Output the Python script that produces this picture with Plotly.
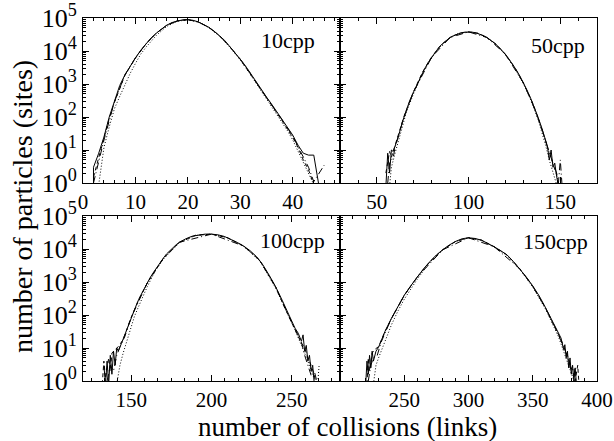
import plotly.graph_objects as go

# ---------------- data ----------------
# Panel 1: 10cpp
p1_x_solid = [2, 2, 3, 4, 5, 6, 7, 8, 9, 10, 11, 12, 13, 14, 15, 16, 17, 18, 19, 20, 21, 22, 23, 24, 25, 26, 27, 28, 29, 30,
              31, 32, 33, 34, 35, 36, 37, 38, 39, 40, 41, 42, 43, 44, 45]
p1_y_solid = [0.5, 3, 8, 25, 100, 300, 900, 1900, 3500, 6200, 10500, 16500, 25000, 35000, 47000, 61000, 73000, 82000, 88000,
              89000, 85000, 76000, 64000, 52000, 40000, 29500, 21000, 13500, 9000, 5600, 3500, 2000, 1150, 660, 400, 240,
              140, 83, 50, 28, 14, 8, 7, 7, 0.8]
p1_x_dash = [2, 3, 4, 5, 6, 8, 10, 12, 14, 16, 18, 20, 22, 24, 26, 28, 30, 32, 34, 36, 38, 39, 40, 41, 42, 43, 44]
p1_y_dash = [1.5, 6, 22, 90, 280, 1850, 6100, 16400, 35000, 61000, 82000, 89000, 76000, 52000, 29500, 13500, 5500, 1950,
             640, 225, 75, 44, 24, 12, 5, 2.5, 0.9]
p1_x_dot = [3, 4, 5, 6, 7, 8, 9, 10, 11, 12, 13, 14, 16, 18, 20, 22, 24, 26, 28, 30, 32, 34, 36, 37, 38, 39, 40, 41, 42, 43, 44]
p1_y_dot = [0.9, 12, 50, 180, 420, 950, 2100, 4200, 8000, 13000, 20500, 30000, 56000, 80000, 88000, 75000, 51000, 28500,
            13000, 5300, 1850, 600, 210, 120, 68, 38, 20, 9, 4.5, 1.8, 0.9]
p1_x_dd = [2, 3, 4, 6, 8, 10, 12, 14, 16, 18, 20, 22, 24, 26, 28, 30, 32, 34, 36, 38, 40, 41, 42, 43, 44, 46]
p1_y_dd = [1, 5, 20, 290, 1900, 6200, 16500, 35000, 61000, 82000, 89000, 76000, 52000, 29500, 13500, 5600, 2000, 650,
           235, 80, 26, 13, 6.5, 3, 1.1, 3.5]

# Panel 2: 50cpp
p2_x_solid = [55, 56, 57, 58, 59, 60, 62, 64, 66, 68, 70, 72, 74, 76, 78, 80, 82, 84, 86, 88, 90, 92, 94, 96, 98, 100, 102,
              104, 106, 108, 110, 112, 114, 116, 118, 120, 122, 124, 126, 128, 130, 132, 134, 136, 138, 140, 142, 143,
              144, 145, 146, 147, 148, 149]
p2_y_solid = [0.8, 8, 2, 10, 9, 13, 28, 71, 158, 316, 562, 1000, 1780, 2820, 4470, 6610, 9550, 13200, 17000, 21400, 25700,
              29500, 33100, 35500, 37200, 38000, 37200, 35500, 33100, 29500, 25700, 21900, 17800, 14100, 11000, 8130,
              5750, 3980, 2690, 1740, 1070, 630, 355, 190, 95, 45, 20, 13, 5, 10, 3, 4, 1.6, 0.8]
p2_x_dash = [55, 56, 57, 58, 60, 62, 65, 70, 75, 80, 85, 90, 95, 100, 105, 110, 115, 120, 125, 130, 135, 138, 140, 142,
             144, 146, 148, 149]
p2_y_dash = [2, 5, 9, 6, 14, 30, 110, 580, 2300, 6700, 15000, 25700, 34500, 38000, 34500, 25700, 15900, 8000, 3300, 1050,
             260, 90, 42, 18, 8, 4, 1.8, 0.8]
p2_x_dot = [57, 58, 60, 62, 64, 66, 70, 75, 80, 85, 90, 95, 100, 105, 110, 115, 120, 125, 130, 134, 138, 140, 142, 144,
            146, 148]
p2_y_dot = [0.8, 3, 8, 20, 55, 130, 500, 2100, 6300, 14500, 25500, 34500, 38000, 34500, 25500, 15700, 7800, 3200, 1000,
            320, 80, 35, 14, 5, 2, 0.9]
p2_x_dd = [56, 57, 59, 60, 65, 70, 80, 90, 100, 110, 120, 130, 136, 140, 143, 145, 147, 148, 149, 150, 151]
p2_y_dd = [1, 4, 6, 12, 105, 560, 6600, 25700, 38000, 25700, 8100, 1060, 180, 44, 12, 6, 3, 2, 1, 5, 0.8]

# Panel 3: 100cpp
p3_x_solid = [133, 134, 135, 136, 137, 138, 139, 140, 141, 142, 144, 146, 148, 150, 152, 154, 156, 158, 160, 162, 164, 166,
              168, 170, 172, 174, 176, 178, 180, 184, 188, 192, 196, 200, 204, 208, 212, 216, 220, 224, 228, 232, 236,
              240, 244, 248, 252, 254, 256, 257, 258, 259, 260, 261, 262, 263, 264]
p3_y_solid = [3, 0.8, 4, 0.8, 6, 1.6, 8, 3, 10, 8, 14, 25, 50, 89, 158, 251, 398, 631, 955, 1410, 2000, 2820, 3980, 5250,
              7080, 8900, 11000, 13500, 16000, 20400, 24500, 26900, 28200, 28200, 26900, 24000, 20000, 15800, 12300,
              8900, 5900, 3300, 1580, 710, 280, 100, 40, 28, 16, 25, 8, 12, 4, 6, 2, 3, 0.8]
p3_x_dash = [132, 133, 134, 136, 137, 138, 140, 142, 145, 150, 155, 160, 170, 180, 190, 200, 210, 220, 230, 240, 245, 250,
             254, 256, 258, 260, 262, 264, 265]
p3_y_dash = [0.8, 4, 1.2, 5, 2, 7, 9, 11, 18, 85, 310, 930, 5200, 16000, 26000, 28200, 22000, 12300, 4600, 690, 190, 58,
             24, 14, 10, 5, 3, 1.5, 0.8]
p3_x_dot = [141, 143, 145, 148, 150, 152, 155, 160, 165, 170, 180, 190, 200, 210, 220, 230, 240, 244, 248, 252, 256, 260,
            263, 265, 266, 267]
p3_y_dot = [0.8, 3, 7, 22, 45, 90, 200, 720, 2200, 4900, 15500, 25800, 28200, 22000, 12000, 4400, 650, 250, 90, 35, 12, 4,
            1.5, 1, 0.7, 3]
p3_x_dd = [135, 137, 139, 141, 143, 146, 150, 160, 170, 180, 200, 220, 230, 240, 248, 252, 256, 258, 260, 262, 264, 266]
p3_y_dd = [1, 3, 2, 6, 11, 22, 85, 940, 5200, 16000, 28200, 12300, 4500, 700, 95, 38, 15, 6, 3, 1.5, 2, 0.8]

# Panel 4: 150cpp
p4_x_solid = [220, 221, 222, 223, 224, 225, 226, 228, 230, 232, 235, 240, 245, 250, 255, 260, 265, 270, 275, 280, 285, 290,
              295, 300, 305, 310, 315, 320, 325, 330, 335, 340, 345, 350, 355, 360, 365, 370, 372, 374, 375, 376, 377,
              378, 379, 380, 381, 382, 383, 384]
p4_y_solid = [0.8, 4, 1.6, 6, 2.5, 8, 4, 8, 10.5, 16, 32, 79, 186, 398, 759, 1410, 2510, 4170, 6610, 9550, 13200, 17000,
              20400, 21900, 20900, 18600, 15100, 11700, 8910, 6610, 4170, 2510, 1410, 759, 380, 166, 66, 26, 20, 9, 12.6,
              5, 8, 2.5, 5, 1.6, 3, 1, 2.5, 0.8]
p4_x_dash = [221, 222, 223, 225, 227, 230, 235, 240, 250, 260, 270, 280, 290, 300, 310, 320, 330, 340, 350, 360, 365, 370,
             372, 375, 377, 379, 381, 383, 385, 386]
p4_y_dash = [0.8, 5, 2, 7, 9, 11, 31, 77, 390, 1400, 4150, 9500, 17000, 21900, 18600, 11700, 6600, 2500, 740, 160, 62, 24,
             18, 9, 6, 3, 2, 1, 3, 0.8]
p4_x_dot = [226, 228, 230, 233, 236, 240, 245, 250, 260, 270, 280, 290, 300, 310, 320, 330, 340, 350, 360, 365, 370, 374,
            378, 381, 383]
p4_y_dot = [0.8, 3, 5, 10, 20, 50, 130, 300, 1200, 4000, 9400, 16900, 21900, 18500, 11500, 6400, 2400, 700, 150, 60, 22, 8,
            3, 1.5, 0.8]
p4_x_dd = [222, 224, 226, 229, 232, 240, 250, 260, 280, 300, 320, 340, 350, 360, 368, 373, 376, 378, 380, 382, 384]
p4_y_dd = [1, 3, 5, 6, 15, 78, 395, 1400, 9500, 21900, 11700, 2500, 750, 162, 38, 14, 7, 4, 2, 2.5, 0.8]

panel_labels = ["10cpp", "50cpp", "100cpp", "150cpp"]
y_tickvals = [1, 10, 100, 1000, 10000, 100000]
y_ticktext = ["10<sup>0</sup>", "10<sup>1</sup>", "10<sup>2</sup>", "10<sup>3</sup>", "10<sup>4</sup>", "10<sup>5</sup>"]
x_title = "number of collisions (links)"
y_title = "number of particles (sites)"

# ---------------- figure ----------------
FONT = "Liberation Serif, Times New Roman, serif"
fig = go.Figure()

series = [
    (1, [(p1_x_solid, p1_y_solid, "solid"), (p1_x_dash, p1_y_dash, "dash"),
         (p1_x_dot, p1_y_dot, "dot"), (p1_x_dd, p1_y_dd, "dashdot")]),
    (2, [(p2_x_solid, p2_y_solid, "solid"), (p2_x_dash, p2_y_dash, "dash"),
         (p2_x_dot, p2_y_dot, "dot"), (p2_x_dd, p2_y_dd, "dashdot")]),
    (3, [(p3_x_solid, p3_y_solid, "solid"), (p3_x_dash, p3_y_dash, "dash"),
         (p3_x_dot, p3_y_dot, "dot"), (p3_x_dd, p3_y_dd, "dashdot")]),
    (4, [(p4_x_solid, p4_y_solid, "solid"), (p4_x_dash, p4_y_dash, "dash"),
         (p4_x_dot, p4_y_dot, "dot"), (p4_x_dd, p4_y_dd, "dashdot")]),
]
dash_map = {"solid": "solid", "dash": "4px,3px", "dot": "1px,2px", "dashdot": "7px,3px,1px,3px"}
for idx, lst in series:
    for xs, ys, st in lst:
        fig.add_trace(go.Scatter(
            x=xs, y=ys, mode="lines",
            line=dict(color="black", width=1, dash=dash_map[st]),
            xaxis="x" if idx == 1 else f"x{idx}",
            yaxis="y" if idx == 1 else f"y{idx}",
            showlegend=False, hoverinfo="skip"))

W, H = 614, 441
ML, MR, MT, MB = 83, 17, 18, 60
PW, PH = W - ML - MR, H - MT - MB  # 514 x 363

top_dom = [198 / PH, 1.0]
bot_dom = [0.0, 165 / PH]
left_dom = [0.0, 0.5]
right_dom = [0.5, 1.0]


def xax(dom, anchor, rng, dtick, minor_dtick, minor_tick0=0, tickvals=None):
    d = dict(domain=dom, anchor=anchor, range=rng, showline=True, linecolor="black", linewidth=1,
             mirror="ticks", ticks="inside", ticklen=6, tickwidth=1, tickcolor="black", automargin=False,
             showgrid=False, zeroline=False, tick0=0, dtick=dtick,
             tickfont=dict(family=FONT, size=21, color="black"),
             minor=dict(ticks="inside", ticklen=3, tickwidth=1, tickcolor="black",
                        tick0=minor_tick0, dtick=minor_dtick, showgrid=False))
    if tickvals is not None:
        d.update(tickmode="array", tickvals=tickvals)
    return d


def yax(dom, anchor, labels, mirror):
    return dict(domain=dom, anchor=anchor, type="log", range=[0, 5], showline=True, linecolor="black",
                linewidth=1, mirror=mirror, ticks="inside", ticklen=6, tickwidth=1, tickcolor="black",
                showgrid=False, zeroline=False, tickmode="array", tickvals=y_tickvals, ticktext=y_ticktext,
                automargin=False,
                showticklabels=labels, tickfont=dict(family=FONT, size=26, color="black"),
                minor=dict(ticks="inside", ticklen=3, tickwidth=1, tickcolor="black", dtick="D1", showgrid=False))


fig.update_layout(
    template="none",
    width=W, height=H,
    margin=dict(l=ML, r=MR, t=MT, b=MB, autoexpand=False),
    paper_bgcolor="white", plot_bgcolor="white",
    font=dict(family=FONT, color="black"),
    xaxis=xax(left_dom, "y", [0, 49], 10, 2),
    yaxis=yax(top_dom, "x", True, "ticks"),
    xaxis2=xax(right_dom, "y2", [30, 170], 50, 10),
    yaxis2=yax(top_dom, "x2", False, True),
    xaxis3=xax(left_dom, "y3", [120, 280], 50, 50 / 6, 150),
    yaxis3=yax(bot_dom, "x3", True, "ticks"),
    xaxis4=xax(right_dom, "y4", [200, 400], 50, 10, 0, tickvals=[250, 300, 350, 400]),
    yaxis4=yax(bot_dom, "x4", False, True),
)

label_pos = [("x", "y", 0.91, 0.864), ("x2", "y2", 0.961, 0.836), ("x3", "y3", 0.949, 0.852), ("x4", "y4", 0.973, 0.848)]
for (xa, ya, px, py), txt in zip(label_pos, panel_labels):
    fig.add_annotation(text=txt, xref=f"{xa} domain", yref=f"{ya} domain", x=px, y=py,
                       xanchor="right", yanchor="middle", showarrow=False,
                       font=dict(family=FONT, size=22, color="black"))

fig.add_annotation(text=x_title, xref="paper", yref="paper", x=(347 - ML) / PW, y=-(427 - 381) / PH,
                   xanchor="center", yanchor="middle", showarrow=False,
                   font=dict(family=FONT, size=27, color="black"))
fig.add_annotation(text=y_title, xref="paper", yref="paper", x=-(ML - 22) / PW, y=1 - (207 - MT) / PH,
                   xanchor="center", yanchor="middle", textangle=-90, showarrow=False,
                   font=dict(family=FONT, size=28, color="black"))

fig.write_html("out.html", config={"displayModeBar": False, "staticPlot": True},
               post_script="document.body.style.margin='0';document.body.style.overflow='hidden';")
